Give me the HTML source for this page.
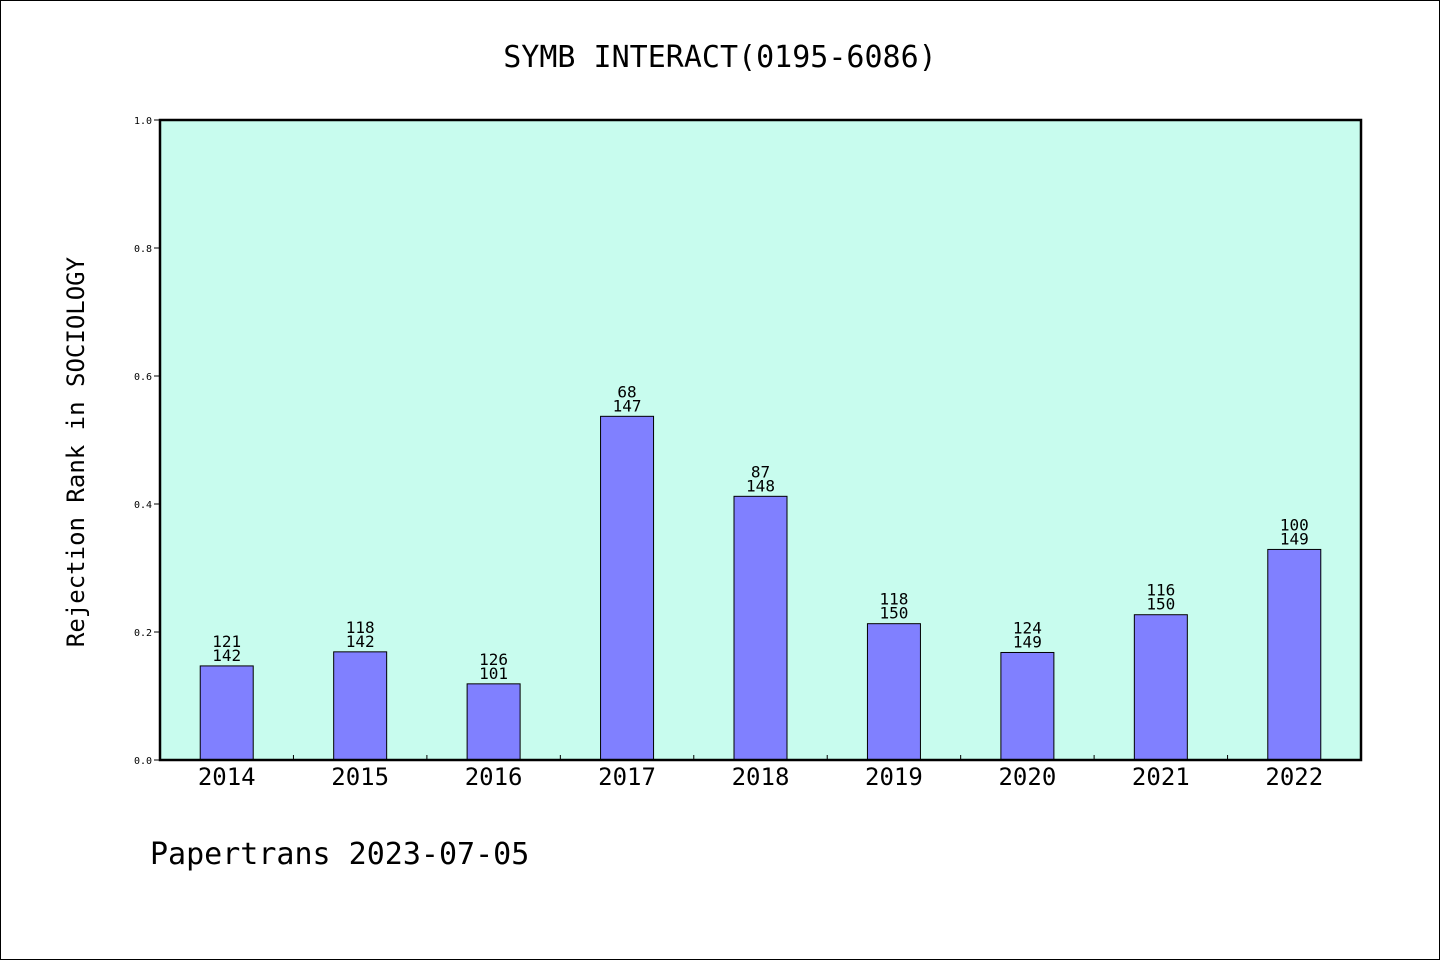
<!DOCTYPE html>
<html><head><meta charset="utf-8">
<style>
html,body{margin:0;padding:0;background:#fff;}
body{width:1440px;height:960px;overflow:hidden;}
svg text{font-family:"WenQuanYi Zen Hei","DejaVu Sans Mono",monospace;fill:#000;}
</style></head>
<body>
<svg id="chart" width="1440" height="960" xmlns="http://www.w3.org/2000/svg">
<rect x="0.5" y="0.5" width="1439" height="959" fill="#fff" stroke="#000" stroke-width="1"/>
<text x="720" y="67" font-size="30" text-anchor="middle">SYMB INTERACT(0195-6086)</text>
<rect x="160" y="120" width="1201" height="640" fill="#c8fcee"/>
<g id="bars"></g>
<rect x="160" y="120" width="1201" height="640" fill="none" stroke="#000" stroke-width="2.5"/>
<g id="axes"></g>
<text transform="translate(84,452) rotate(-90)" font-size="24" text-anchor="middle">Rejection Rank in SOCIOLOGY</text>
<text x="150" y="864" font-size="30">Papertrans 2023-07-05</text>
</svg>
<script>
const categories = ["2014","2015","2016","2017","2018","2019","2020","2021","2022"];
const values = [0.147,0.169,0.119,0.537,0.412,0.213,0.168,0.227,0.329];
const rankLabels = ["121","118","126","68","87","118","124","116","100"];
const totalLabels = ["142","142","101","147","148","150","149","150","149"];
const yTicks = [0,0.2,0.4,0.6,0.8,1.0];
const yTickLabels = ["0.0","0.2","0.4","0.6","0.8","1.0"];

const NS="http://www.w3.org/2000/svg";
const L=160,R=1361,T=120,B=760;
const band=(R-L)/categories.length;
const x=i=>L+band*i;
const y=v=>B-(B-T)*v;
function mk(tag,attrs,parent,txt){const e=document.createElementNS(NS,tag);for(const k in attrs)e.setAttribute(k,attrs[k]);if(txt!==undefined)e.textContent=txt;parent.appendChild(e);return e;}
const bars=document.getElementById('bars'), axes=document.getElementById('axes');
const bw=53;
categories.forEach((c,i)=>{
  const cx=x(i)+band/2;
  const r=mk('rect',{x:cx-bw/2,y:y(values[i]),width:bw,height:B-y(values[i]),fill:'#8080ff',stroke:'#000','stroke-width':1},bars);
  
  
  const t1=mk('text',{x:cx,y:y(values[i])-19,'font-size':16,'text-anchor':'middle'},bars,rankLabels[i]);
  
  
  const t2=mk('text',{x:cx,y:y(values[i])-5,'font-size':16,'text-anchor':'middle'},bars,totalLabels[i]);
  
  
  const xl=mk('text',{x:cx,y:785,'font-size':24,'text-anchor':'middle'},axes,c);
  
  
  if(i>0){
    const tk=mk('line',{x1:x(i),x2:x(i),y1:B,y2:B-5,stroke:'#000','stroke-width':1},axes);
    
    
  }
});
yTicks.forEach((v,i)=>{
  const tk=mk('line',{x1:L-6,x2:L,y1:y(v),y2:y(v),stroke:'#000','stroke-width':1},axes);
  
  
  const tl=mk('text',{x:152,y:y(v)+4,'font-size':10,'text-anchor':'end'},axes,yTickLabels[i]);
  
  
});
</script>
</body></html>
